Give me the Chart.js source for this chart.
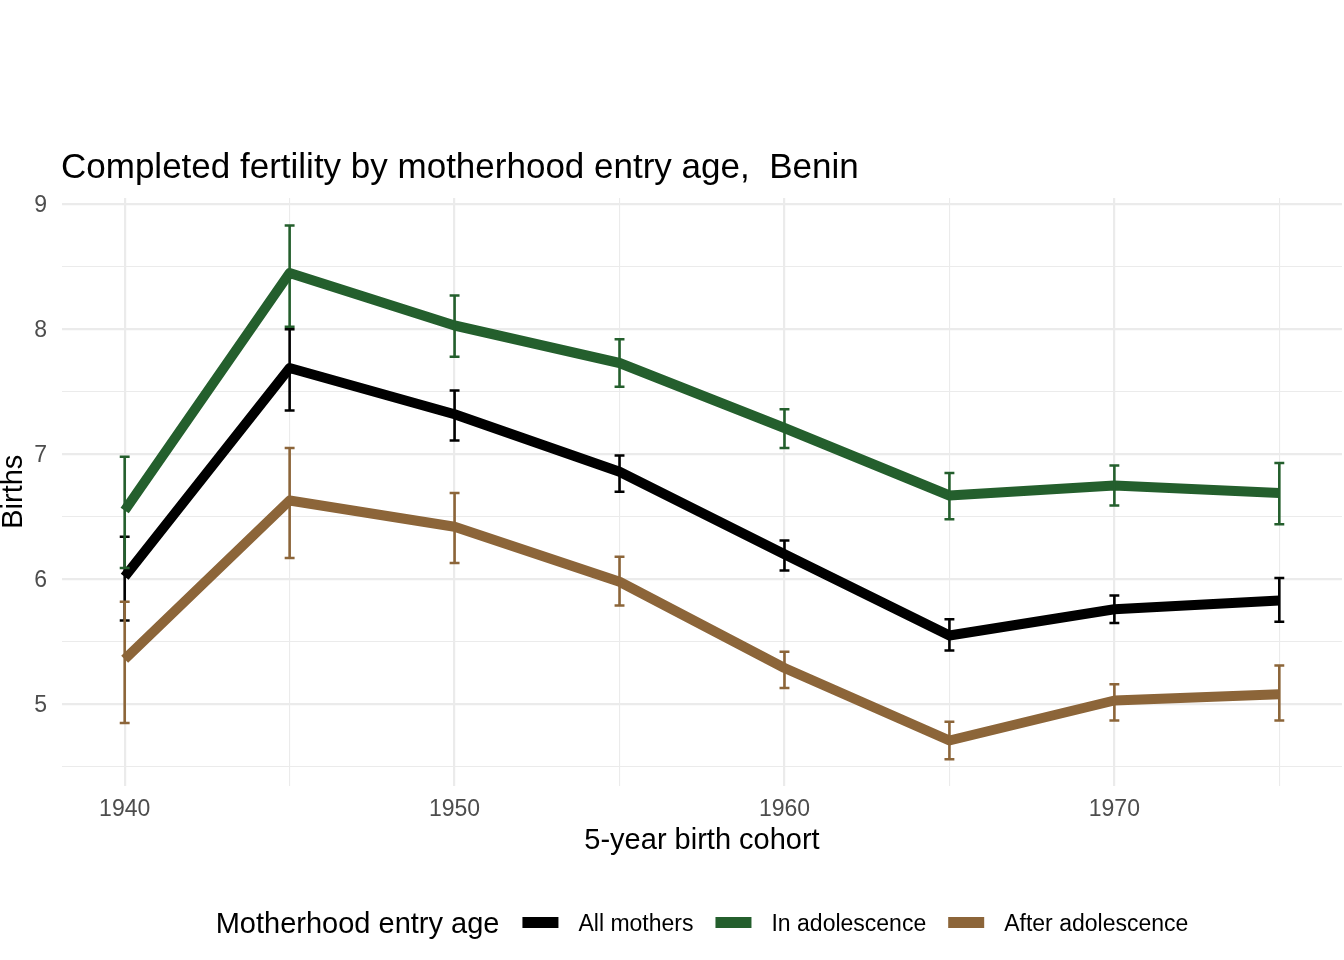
<!DOCTYPE html>
<html>
<head>
<meta charset="utf-8">
<script src="https://cdn.jsdelivr.net/npm/chart.js@4/dist/chart.umd.min.js"></script>
<style>
  html, body { margin: 0; padding: 0; background: #ffffff; }
  #wrap { width: 1344px; height: 960px; }
</style>
</head>
<body>
<div id="wrap"><canvas id="c" width="1344" height="960"></canvas></div>
<script>
// ---- data ----
const cohorts = [1940, 1945, 1950, 1955, 1960, 1965, 1970, 1975];

const allMothers   = [6.02, 7.69, 7.32, 6.86, 6.20, 5.55, 5.76, 5.83];
const allMothersLo = [5.67, 7.35, 7.11, 6.70, 6.07, 5.43, 5.65, 5.66];
const allMothersHi = [6.34, 8.00, 7.51, 6.99, 6.31, 5.68, 5.87, 6.01];

const inAdol   = [6.55, 8.45, 8.03, 7.73, 7.21, 6.67, 6.75, 6.69];
const inAdolLo = [6.09, 8.02, 7.78, 7.54, 7.05, 6.48, 6.59, 6.44];
const inAdolHi = [6.98, 8.83, 8.27, 7.92, 7.36, 6.85, 6.91, 6.93];

const afterAdol   = [5.36, 6.63, 6.42, 5.98, 5.29, 4.71, 5.03, 5.08];
const afterAdolLo = [4.85, 6.17, 6.13, 5.79, 5.13, 4.56, 4.87, 4.87];
const afterAdolHi = [5.82, 7.05, 6.69, 6.18, 5.42, 4.86, 5.16, 5.31];

const seriesNames = ['All mothers', 'In adolescence', 'After adolescence'];
const seriesColors = ['#000000', '#245f2d', '#8c6539'];

const xTicks = [1940, 1945, 1950, 1955, 1960, 1965, 1970, 1975];
const xLabelTicks = [1940, 1950, 1960, 1970];
const yTicks = [4.5, 5, 5.5, 6, 6.5, 7, 7.5, 8, 8.5, 9];
const yLabelTicks = [5, 6, 7, 8, 9];

const titleText = 'Completed fertility by motherhood entry age,  Benin';
const xTitle = '5-year birth cohort';
const yTitle = 'Births';
const legendTitle = 'Motherhood entry age';

const FONT = '"Liberation Sans", Arial, Helvetica, sans-serif';

function pts(vals) { return cohorts.map((c, i) => ({ x: c, y: vals[i] })); }

const errData = [
  { lo: allMothersLo, hi: allMothersHi },
  { lo: inAdolLo, hi: inAdolHi },
  { lo: afterAdolLo, hi: afterAdolHi }
];

const errorBarPlugin = {
  id: 'errorBars',
  afterDatasetsDraw(chart) {
    const ctx = chart.ctx;
    const xs = chart.scales.x, ys = chart.scales.y;
    ctx.save();
    errData.forEach((e, si) => {
      ctx.strokeStyle = seriesColors[si];
      ctx.lineWidth = 2.6;
      ctx.lineCap = 'butt';
      cohorts.forEach((c, i) => {
        const px = xs.getPixelForValue(c);
        const pl = xs.getPixelForValue(c - 0.15);
        const pr = xs.getPixelForValue(c + 0.15);
        const yl = ys.getPixelForValue(e.lo[i]);
        const yh = ys.getPixelForValue(e.hi[i]);
        ctx.beginPath();
        ctx.moveTo(px, yl); ctx.lineTo(px, yh);
        ctx.moveTo(pl, yl); ctx.lineTo(pr, yl);
        ctx.moveTo(pl, yh); ctx.lineTo(pr, yh);
        ctx.stroke();
      });
    });
    ctx.restore();
  }
};

const textPlugin = {
  id: 'texts',
  afterDraw(chart) {
    const ctx = chart.ctx;
    const ca = chart.chartArea;
    ctx.save();
    // title
    ctx.fillStyle = '#000000';
    ctx.font = '35px ' + FONT;
    ctx.textAlign = 'left';
    ctx.textBaseline = 'alphabetic';
    ctx.fillText(titleText, 61, 178);
    // x axis title
    ctx.font = '29px ' + FONT;
    ctx.textAlign = 'center';
    ctx.fillText(xTitle, (ca.left + ca.right) / 2, 849);
    // y axis title
    ctx.save();
    ctx.translate(22, (ca.top + ca.bottom) / 2);
    ctx.rotate(-Math.PI / 2);
    ctx.textAlign = 'center';
    ctx.fillText(yTitle, 0, 0);
    ctx.restore();
    // legend
    const cy = 922.5;
    ctx.font = '29px ' + FONT;
    const tw = ctx.measureText(legendTitle).width;
    ctx.font = '23px ' + FONT;
    const itemW = seriesNames.map(n => ctx.measureText(n).width);
    const keyW = 36, keyH = 11, gapTK = 23, gapKT = 20, gapTN = 22;
    let total = tw + gapTK;
    itemW.forEach((w, i) => { total += keyW + gapKT + w + (i < itemW.length - 1 ? gapTN : 0); });
    let x = (ca.left + ca.right) / 2 - total / 2;
    ctx.textAlign = 'left';
    ctx.font = '29px ' + FONT;
    ctx.fillStyle = '#000000';
    ctx.fillText(legendTitle, x, cy + 10.5);
    x += tw + gapTK;
    seriesNames.forEach((n, i) => {
      ctx.fillStyle = seriesColors[i];
      ctx.fillRect(x, cy - keyH / 2, keyW, keyH);
      x += keyW + gapKT;
      ctx.fillStyle = '#000000';
      ctx.font = '23px ' + FONT;
      ctx.fillText(n, x, cy + 8.3);
      x += itemW[i] + gapTN;
    });
    ctx.restore();
  }
};

const gridColor = '#ebebeb';

new Chart(document.getElementById('c'), {
  type: 'line',
  data: {
    datasets: [
      { label: seriesNames[0], data: pts(allMothers), borderColor: seriesColors[0], order: 3 },
      { label: seriesNames[1], data: pts(inAdol), borderColor: seriesColors[1], order: 2 },
      { label: seriesNames[2], data: pts(afterAdol), borderColor: seriesColors[2], order: 1 }
    ].map(d => Object.assign(d, {
      borderWidth: 10, pointRadius: 0, pointHoverRadius: 0, tension: 0,
      borderJoinStyle: 'round', borderCapStyle: 'butt', fill: false
    }))
  },
  options: {
    responsive: false,
    animation: false,
    devicePixelRatio: 1,
    layout: { padding: { top: 198, left: 0, right: 2, bottom: 124.5 } },
    plugins: { legend: { display: false }, tooltip: { enabled: false }, title: { display: false } },
    scales: {
      x: {
        type: 'linear',
        min: 1938.1, max: 1976.9,
        afterFit(s) { s.height = 50; },
        afterBuildTicks(s) { s.ticks = xTicks.map(v => ({ value: v })); },
        border: { display: false },
        grid: {
          color: gridColor,
          drawTicks: false,
          lineWidth: c => (xLabelTicks.includes(c.tick.value) ? 2.2 : 1.1)
        },
        ticks: {
          autoSkip: false, maxRotation: 0, padding: 10,
          color: '#4d4d4d', font: { family: FONT, size: 23 },
          callback: v => (xLabelTicks.includes(v) ? String(v) : '')
        }
      },
      y: {
        type: 'linear',
        min: 4.35, max: 9.05,
        afterFit(s) { s.width = 62; },
        afterBuildTicks(s) { s.ticks = yTicks.map(v => ({ value: v })); },
        border: { display: false },
        grid: {
          color: gridColor,
          drawTicks: false,
          lineWidth: c => (yLabelTicks.includes(c.tick.value) ? 2.2 : 1.1)
        },
        ticks: {
          autoSkip: false, padding: 15, labelOffset: 1.5,
          color: '#4d4d4d', font: { family: FONT, size: 23 },
          callback: v => (yLabelTicks.includes(v) ? String(v) : '')
        }
      }
    }
  },
  plugins: [errorBarPlugin, textPlugin]
});
</script>
</body>
</html>
